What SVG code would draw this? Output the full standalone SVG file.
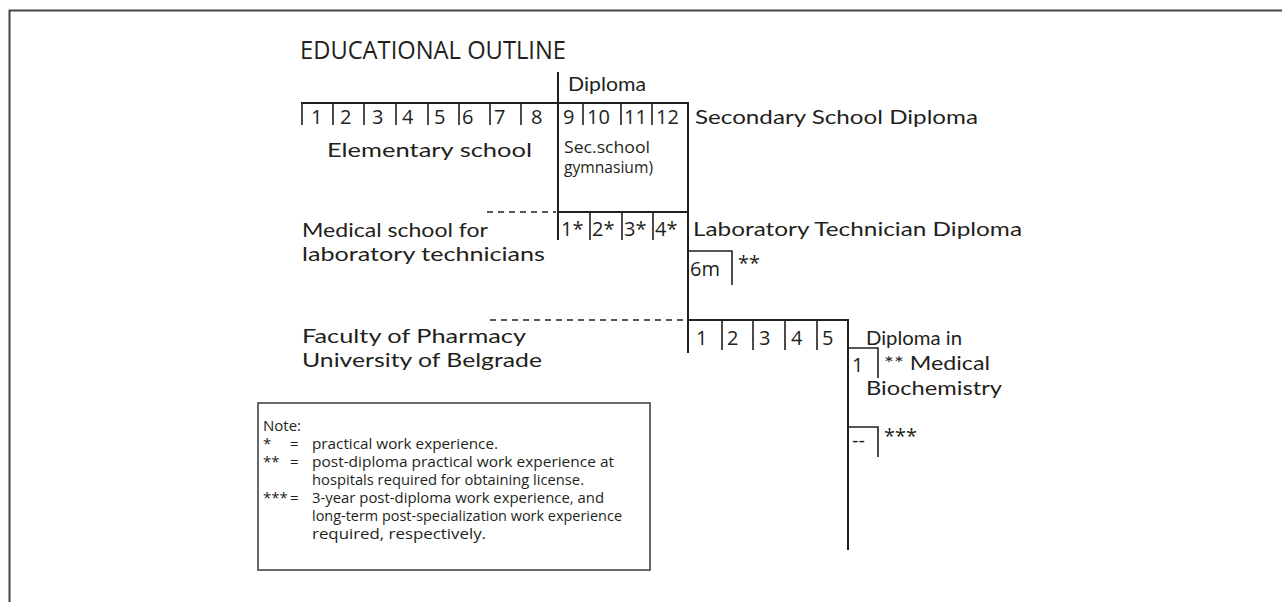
<svg xmlns="http://www.w3.org/2000/svg" width="1282" height="602" viewBox="0 0 1282 602">
<style>
text{font-family:"Open Sans","Lato",sans-serif;fill:#231f20}
.t{font-family:"Lato","Open Sans",sans-serif;font-size:19.8px}
.d{font-size:20px}
.s{font-size:16px}
.n{font-size:15px}
.ln{stroke:#231f20;stroke-width:2;fill:none}
.tk{stroke:#231f20;stroke-width:1.6;fill:none}
.ds{stroke:#231f20;stroke-width:1.6;fill:none;stroke-dasharray:6 5}
.fr{stroke:#444;stroke-width:2;fill:none}
</style>
<rect width="1282" height="602" fill="#fff"/>
<polyline class="fr" points="1282,10.5 9.5,10.5 9.5,602"/>
<g id="title"><text x="300" y="59" font-size="26" textLength="266" lengthAdjust="spacingAndGlyphs">EDUCATIONAL OUTLINE</text></g>
<g id="connectors">
<line class="ln" x1="558" y1="72" x2="558" y2="240"/>
<line class="ln" x1="301" y1="103" x2="689" y2="103"/>
<line class="ln" x1="688" y1="103" x2="688" y2="353"/>
<path class="tk" d="M302 103V125M333 103V125M364 103V125M396 103V125M428 103V125M459 103V125M490 103V125M521 103V125M583 103V125M621 103V125M652 103V125"/>
<line class="ln" x1="558" y1="212" x2="688" y2="212"/>
<line class="ds" x1="487" y1="212" x2="556" y2="212"/>
<path class="tk" d="M590 212V240M622 212V240M653 212V240"/>
<polyline class="tk" points="688,251 732,251 732,285"/>
<line class="ds" x1="490" y1="320" x2="686" y2="320"/>
<polyline class="ln" points="688,320 848,320 848,550"/>
<path class="tk" d="M722 320V350M753 320V350M785 320V350M817 320V350"/>
<polyline class="tk" points="848,348 878,348 878,378"/>
<polyline class="tk" points="848,427 878,427 878,457"/>
</g>
<g id="diploma"><text class="t" x="568" y="91" textLength="78" lengthAdjust="spacingAndGlyphs">Diploma</text></g>
<g id="elementary">
<text class="d" x="311" y="124">1</text><text class="d" x="340" y="124">2</text><text class="d" x="372" y="124">3</text><text class="d" x="402" y="124">4</text><text class="d" x="434" y="124">5</text><text class="d" x="462" y="124">6</text><text class="d" x="494" y="124">7</text><text class="d" x="531" y="124">8</text>
<text class="t" x="327" y="157" textLength="205" lengthAdjust="spacingAndGlyphs">Elementary school</text>
</g>
<g id="secondary">
<text class="d" x="563" y="124">9</text><text class="d" x="587" y="124">10</text><text class="d" x="624" y="124">11</text><text class="d" x="656" y="124">12</text>
<text class="s" x="564" y="153" textLength="86" lengthAdjust="spacingAndGlyphs">Sec.school</text>
<text class="s" x="564" y="173" textLength="89" lengthAdjust="spacingAndGlyphs">gymnasium)</text>
<text class="t" x="695" y="124" textLength="283" lengthAdjust="spacingAndGlyphs">Secondary School Diploma</text>
</g>
<g id="medical">
<text class="t" x="302" y="237" textLength="186" lengthAdjust="spacingAndGlyphs">Medical school for</text>
<text class="t" x="302" y="261" textLength="243" lengthAdjust="spacingAndGlyphs">laboratory technicians</text>
<text class="d" x="561" y="236">1*</text><text class="d" x="592" y="236">2*</text><text class="d" x="624" y="236">3*</text><text class="d" x="655" y="236">4*</text>
<text class="t" x="693" y="236" textLength="329" lengthAdjust="spacingAndGlyphs">Laboratory Technician Diploma</text>
<text class="d" x="690" y="276">6m</text><text class="d" x="738" y="270">**</text>
</g>
<g id="faculty">
<text class="t" x="302" y="343" textLength="224" lengthAdjust="spacingAndGlyphs">Faculty of Pharmacy</text>
<text class="t" x="302" y="367" textLength="240" lengthAdjust="spacingAndGlyphs">University of Belgrade</text>
<text class="d" x="696" y="345">1</text><text class="d" x="727" y="345">2</text><text class="d" x="759" y="345">3</text><text class="d" x="791" y="345">4</text><text class="d" x="822" y="345">5</text>
</g>
<g id="biochemistry">
<text class="t" x="866" y="345" textLength="96" lengthAdjust="spacingAndGlyphs">Diploma in</text>
<text class="d" x="852" y="372">1</text>
<text class="t" x="884" y="370" textLength="106" lengthAdjust="spacingAndGlyphs">** Medical</text>
<text class="t" x="866" y="395" textLength="136" lengthAdjust="spacingAndGlyphs">Biochemistry</text>
<text class="d" x="852" y="447">--</text>
<text class="d" x="884" y="443">***</text>
</g>
<g id="note">
<rect x="258" y="403" width="392" height="167" fill="none" stroke="#444" stroke-width="1.6"/>
<text class="n" x="263" y="431">Note:</text>
<text class="n" x="263" y="449">*</text><text class="n" x="290" y="449">=</text><text class="n" x="312" y="449" textLength="186" lengthAdjust="spacingAndGlyphs">practical work experience.</text>
<text class="n" x="263" y="467">**</text><text class="n" x="290" y="467">=</text><text class="n" x="312" y="467" textLength="302" lengthAdjust="spacingAndGlyphs">post-diploma practical work experience at</text>
<text class="n" x="312" y="485" textLength="272" lengthAdjust="spacingAndGlyphs">hospitals required for obtaining license.</text>
<text class="n" x="263" y="503">***</text><text class="n" x="290" y="503">=</text><text class="n" x="312" y="503" textLength="292" lengthAdjust="spacingAndGlyphs">3-year post-diploma work experience, and</text>
<text class="n" x="312" y="521" textLength="310" lengthAdjust="spacingAndGlyphs">long-term post-specialization work experience</text>
<text class="n" x="312" y="539" textLength="174" lengthAdjust="spacingAndGlyphs">required, respectively.</text>
</g>
</svg>
